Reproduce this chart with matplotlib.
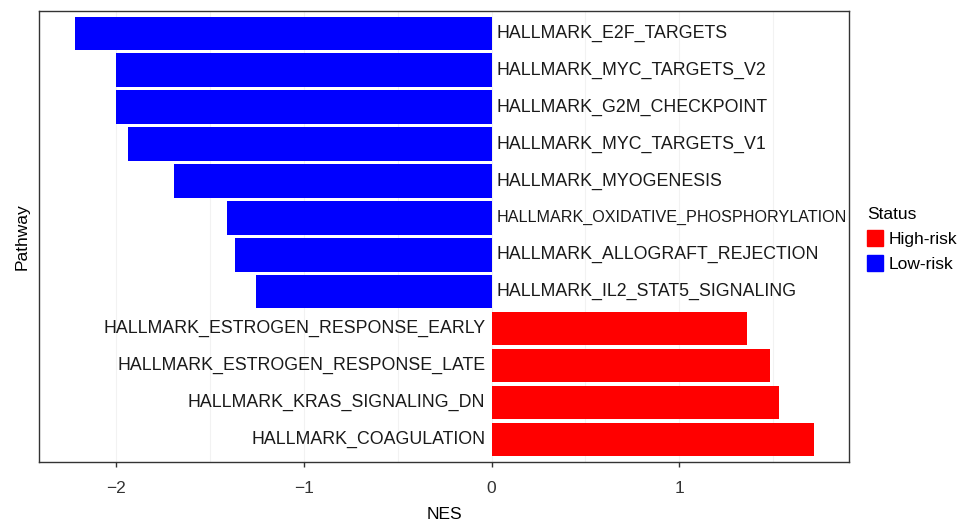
import matplotlib.pyplot as plt
from matplotlib.patches import Patch

plt.rcParams['font.family'] = ['Liberation Sans', 'DejaVu Sans']

# pathways, top to bottom
pathways = [
    'HALLMARK_E2F_TARGETS',
    'HALLMARK_MYC_TARGETS_V2',
    'HALLMARK_G2M_CHECKPOINT',
    'HALLMARK_MYC_TARGETS_V1',
    'HALLMARK_MYOGENESIS',
    'HALLMARK_OXIDATIVE_PHOSPHORYLATION',
    'HALLMARK_ALLOGRAFT_REJECTION',
    'HALLMARK_IL2_STAT5_SIGNALING',
    'HALLMARK_ESTROGEN_RESPONSE_EARLY',
    'HALLMARK_ESTROGEN_RESPONSE_LATE',
    'HALLMARK_KRAS_SIGNALING_DN',
    'HALLMARK_COAGULATION',
]
nes = [-2.22, -2.00, -2.00, -1.94, -1.69, -1.41, -1.37, -1.255,
       1.362, 1.486, 1.534, 1.719]

high_col = '#FF0000'
low_col = '#0000FF'

fig = plt.figure(figsize=(9.63, 5.23), dpi=100)
ax = fig.add_axes([0.0405, 0.117, 0.8415, 0.862])

n = len(pathways)
ypos = [n - i for i in range(n)]
colors = [low_col if v < 0 else high_col for v in nes]

# faint grid
for gx in [-2, -1.5, -1, -0.5, 0, 0.5, 1, 1.5]:
    ax.axvline(gx, color='#f2f2f2', lw=0.8, zorder=0)

ax.barh(ypos, nes, height=0.9, color=colors, zorder=2)

ax.set_xlim(-2.412, 1.907)
ax.set_ylim(0.4, n + 0.6)

labels = []
for y, v, name in zip(ypos, nes, pathways):
    if v < 0:
        t = ax.annotate(name, (0, y), xytext=(3.4, 0), textcoords='offset points',
                        ha='left', va='center', fontsize=12.8, color='#1a1a1a')
    else:
        t = ax.annotate(name, (0, y), xytext=(-4.5, 0), textcoords='offset points',
                        ha='right', va='center', fontsize=12.8, color='#1a1a1a')
    labels.append(t)

# shrink labels that would run past the panel border
fig.canvas.draw()
r = fig.canvas.get_renderer()
ax_bb = ax.get_window_extent(r)
for t in labels:
    bb = t.get_window_extent(r)
    if bb.x1 > ax_bb.x1 - 3:
        avail = ax_bb.x1 - 3 - bb.x0
        t.set_fontsize(t.get_fontsize() * avail / bb.width)

ax.set_yticks([])
ax.set_xticks([-2, -1, 0, 1])
ax.set_xticklabels(['\u22122', '\u22121', '0', '1'], fontsize=12.5, color='#333333')
ax.tick_params(axis='x', length=3.5, width=1, color='#333333', pad=10)
for s in ax.spines.values():
    s.set_color('#333333')
    s.set_linewidth(1)

ax.set_xlabel('NES', fontsize=12.5, labelpad=8)
ax.set_ylabel('Pathway', fontsize=12.5, labelpad=7)

handles = [Patch(color=high_col, label='High-risk'),
           Patch(color=low_col, label='Low-risk')]
fig.legend(handles=handles, title='Status', loc='upper left',
           bbox_to_anchor=(0.893, 0.618), frameon=False, fontsize=12.5,
           title_fontsize=12.5, handlelength=0.9, handleheight=1.1,
           handletextpad=0.35, labelspacing=0.45, borderaxespad=0)
leg = fig.legends[0]
leg._legend_box.align = 'left'

fig.savefig('out.png', dpi=100)
